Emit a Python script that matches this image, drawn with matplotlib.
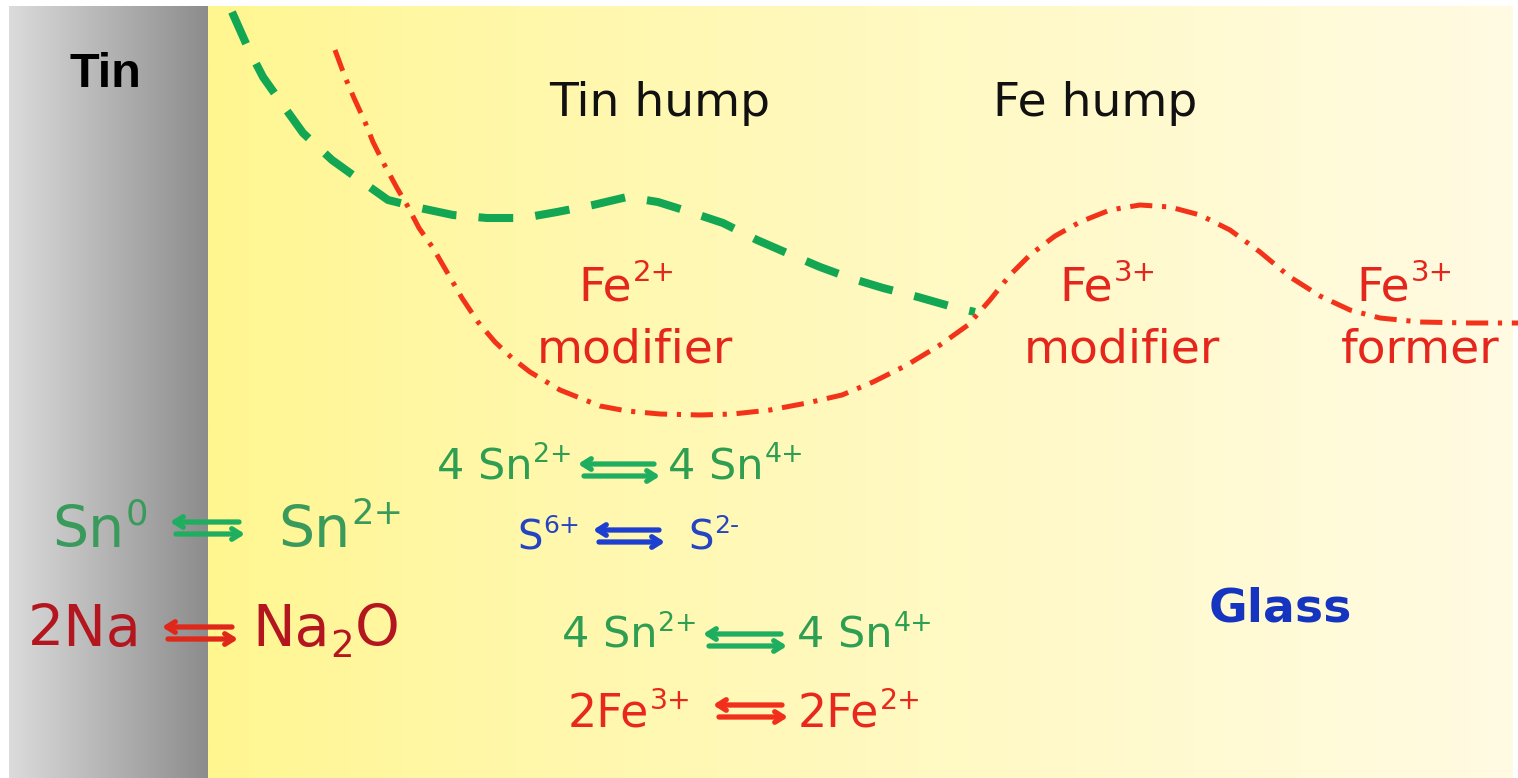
import re
import numpy as np
import matplotlib
matplotlib.use("Agg")
import matplotlib.pyplot as plt
from matplotlib.colors import to_rgb

plt.rcParams["font.family"] = ["DejaVu Sans"]
plt.rcParams["lines.scale_dashes"] = False

# ---------------- data (pixel space) ----------------
green_x = [232, 248, 263, 285, 303, 332, 357, 388, 420, 453, 487, 523, 557, 593,
           627, 658, 693, 723, 757, 787, 820, 850, 883, 918, 953, 975]
green_y = [12, 48, 77, 108, 133, 160, 178, 200, 208, 215, 218, 218, 212, 205,
           197, 202, 213, 223, 240, 253, 267, 278, 288, 297, 307, 312]

red_x = [335, 345, 354, 365, 373, 384, 397, 407, 419, 433, 447, 462, 478, 495,
         512, 530, 560, 580, 600, 627, 660, 700, 733, 770, 807, 842, 873, 907,
         940, 968, 990, 1010, 1030, 1055, 1080, 1110, 1140, 1170, 1200, 1230,
         1260, 1290, 1320, 1350, 1380, 1420, 1470, 1518]
red_y = [50, 77, 98, 122, 142, 164, 188, 205, 228, 248, 272, 298, 322, 342,
         358, 372, 390, 398, 406, 411, 414, 415, 414, 410, 403, 395, 382, 365,
         345, 325, 300, 275, 255, 236, 222, 210, 205, 207, 215, 230,
         252, 277, 296, 310, 318, 322, 323, 323]

labels_top = ["Tin hump", "Fe hump"]
labels_top_x = [660, 1095]

ion_labels = ["Fe^{2+}", "Fe^{3+}", "Fe^{3+}"]
ion_roles = ["modifier", "modifier", "former"]
ion_x = [627, 1108, 1405]
role_x = [635, 1122, 1420]

eq_left = ["4 Sn^{2+}", "S^{6+}", "4 Sn^{2+}", "2Fe^{3+}", "Sn^{0}", "2Na"]
eq_right = ["4 Sn^{4+}", "S^{2-}", "4 Sn^{4+}", "2Fe^{2+}", "Sn^{2+}", "Na_{2}O"]
eq_left_x = [437, 517, 562, 568, 52, 28]
eq_right_x = [668, 688, 797, 798, 278, 252]
eq_arrow_x0 = [578, 593, 703, 713, 170, 162]
eq_arrow_x1 = [660, 665, 787, 788, 245, 238]
eq_baseline = [479, 549, 648, 727, 547, 646]
eq_arrow_y = [470, 536, 640, 711, 528, 633]
eq_size = [31, 29, 31, 33, 41, 41]
eq_text_color = ["#2e9e52", "#2444c4", "#2e9e52", "#e8281c", "#3a9a5c", "#b3161e"]
eq_arrow_color = ["#1fae60", "#1c3fd0", "#1fae60", "#f0301a", "#1fae60", "#e0281a"]

# ---------------- figure ----------------
W, H = 1518, 778
fig = plt.figure(figsize=(W / 100, H / 100), dpi=100)
ax = fig.add_axes([0, 0, 1, 1])
ax.set_xlim(0, W)
ax.set_ylim(H, 0)
ax.axis("off")
fig.patch.set_facecolor("white")
renderer = fig.canvas.get_renderer()

# tin (grey gradient)
g = np.linspace(0.86, 0.55, 256)
grey = np.dstack([g, g, g]).reshape(1, -1, 3)
ax.imshow(grey, extent=(9, 208, H, 6), aspect="auto", zorder=0, interpolation="bilinear")

# glass (yellow gradient)
c0 = np.array(to_rgb("#fff68f"))
c1 = np.array(to_rgb("#fffbe2"))
t = np.linspace(0, 1, 256)[:, None] ** 0.8
yel = (c0 * (1 - t) + c1 * t).reshape(1, -1, 3)
ax.imshow(yel, extent=(208, 1513, H, 6), aspect="auto", zorder=0, interpolation="bilinear")

# curves
ax.plot(green_x, green_y, color="#13a653", lw=5.8, dashes=(25, 16),
        solid_capstyle="butt", dash_capstyle="butt", zorder=3)
ax.plot(red_x, red_y, color="#f2331a", lw=3.6, dashes=(16, 7, 3, 7),
        dash_capstyle="butt", zorder=3)


def chem(x, y, s, size, color, ha="left"):
    """Draw a formula with ^{..} superscripts and _{..} subscripts."""
    em = size * 100 / 72.0
    parts = re.findall(r"\^\{([^}]*)\}|_\{([^}]*)\}|([^\^_]+)", s)
    texts = []
    cx = x
    for sup, sub, norm in parts:
        if norm:
            tt = ax.text(cx, y, norm, fontsize=size, color=color, va="baseline",
                         ha="left", zorder=4)
        elif sup:
            tt = ax.text(cx + 0.02 * em, y - 0.40 * em, sup, fontsize=size * 0.62,
                         color=color, va="baseline", ha="left", zorder=4)
        else:
            tt = ax.text(cx + 0.02 * em, y + 0.20 * em, sub, fontsize=size * 0.65,
                         color=color, va="baseline", ha="left", zorder=4)
        bb = tt.get_window_extent(renderer)
        cx = tt.get_position()[0] + bb.width
        texts.append(tt)
    width = cx - x
    if ha == "center":
        for tt in texts:
            px, py = tt.get_position()
            tt.set_position((px - width / 2, py))
    return width


# texts
ax.text(105, 87, "Tin", fontsize=35, fontweight="bold", family="Liberation Sans",
        ha="center", va="baseline", color="black", zorder=4)
for s, x in zip(labels_top, labels_top_x):
    ax.text(x, 116, s, fontsize=34, ha="center", va="baseline", color="#111111", zorder=4)
for s, x in zip(ion_labels, ion_x):
    chem(x, 300, s, 34, "#e4261c", ha="center")
for s, x in zip(ion_roles, role_x):
    ax.text(x, 362, s, fontsize=34, ha="center", va="baseline", color="#e4261c", zorder=4)

ax.text(1280, 622, "Glass", fontsize=34, fontweight="bold", ha="center",
        va="baseline", color="#1535c0", zorder=4)


def eq_arrow(x0, x1, yc, color):
    d = 6
    head = dict(arrowstyle="->,head_length=0.6,head_width=0.38", lw=3.8,
                color=color, shrinkA=0, shrinkB=0)
    ax.annotate("", xy=(x0, yc - d), xytext=(x1 - 6, yc - d), arrowprops=head, zorder=4)
    ax.annotate("", xy=(x1, yc + d), xytext=(x0 + 6, yc + d), arrowprops=head, zorder=4)


for i in range(len(eq_left)):
    chem(eq_left_x[i], eq_baseline[i], eq_left[i], eq_size[i], eq_text_color[i])
    chem(eq_right_x[i], eq_baseline[i], eq_right[i], eq_size[i], eq_text_color[i])
    eq_arrow(eq_arrow_x0[i], eq_arrow_x1[i], eq_arrow_y[i], eq_arrow_color[i])

fig.savefig("out.png", dpi=100)
